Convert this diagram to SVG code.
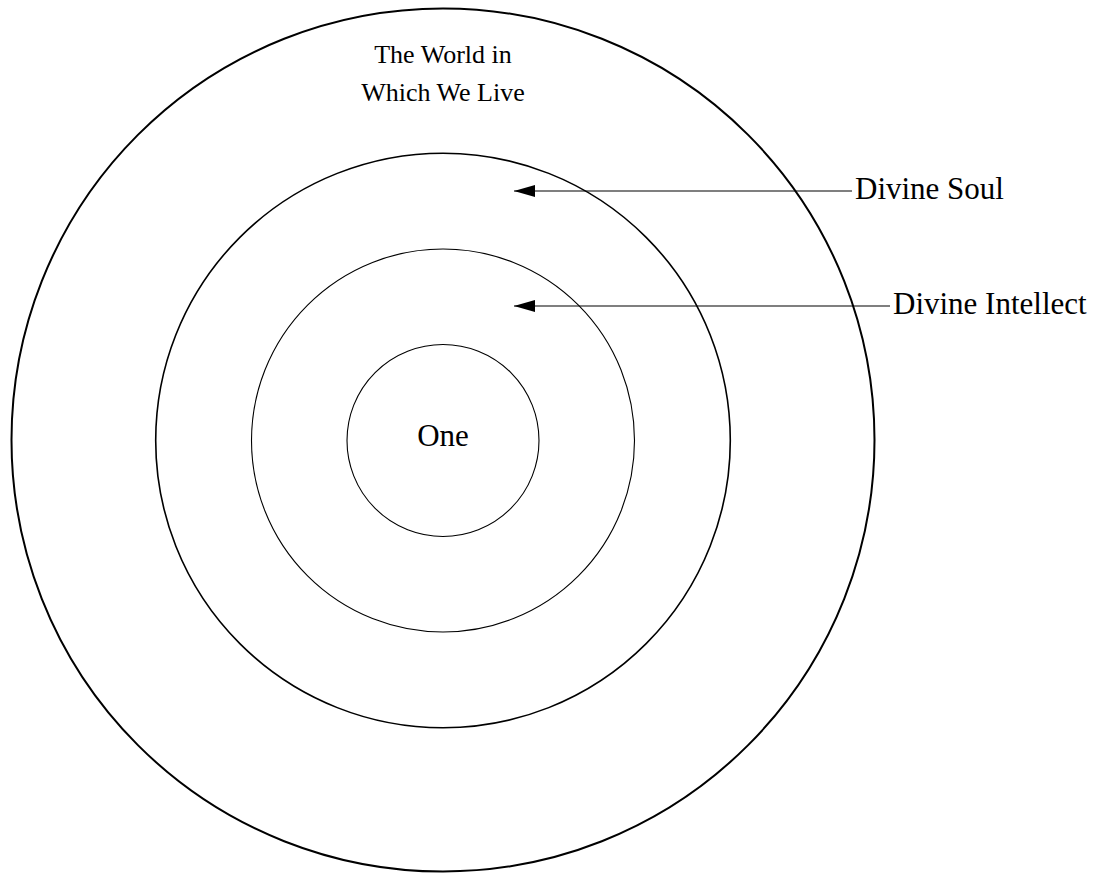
<svg xmlns="http://www.w3.org/2000/svg" width="1101" height="875" viewBox="0 0 1101 875">
<style>
.ring{fill:none;stroke:#000}
.lbl{font-family:"Liberation Serif","Times New Roman",serif;fill:#000}
.conn{stroke:#000;stroke-width:1.2;fill:none}
</style>
<defs>
<marker id="ah" markerUnits="userSpaceOnUse" markerWidth="22" markerHeight="14" refX="21" refY="6" orient="auto" viewBox="0 0 22 12">
<path d="M0,0 L21,6 L0,12 Z" fill="#000"/>
</marker>
</defs>
<rect width="1101" height="875" fill="#fff"/>
<g id="world">
<circle class="ring" cx="443" cy="440" r="431.5" stroke-width="2"/>
<text class="lbl" x="443" y="63" font-size="26" text-anchor="middle">The World in</text>
<text class="lbl" x="443" y="101" font-size="26" text-anchor="middle">Which We Live</text>
</g>
<g id="soul">
<circle class="ring" cx="443" cy="440.5" r="287.3" stroke-width="1.6"/>
<text class="lbl" x="855" y="198.5" font-size="31">Divine Soul</text>
</g>
<g id="intellect">
<circle class="ring" cx="443" cy="440.5" r="191.5" stroke-width="1.1"/>
<text class="lbl" x="893" y="313.5" font-size="31">Divine Intellect</text>
</g>
<g id="one">
<circle class="ring" cx="443" cy="440.5" r="96" stroke-width="1.1"/>
<text class="lbl" x="443" y="446" font-size="31" text-anchor="middle">One</text>
</g>
<g id="connectors">
<line class="conn" x1="852" y1="191" x2="514" y2="191" marker-end="url(#ah)"/>
<line class="conn" x1="890" y1="306" x2="514" y2="306" marker-end="url(#ah)"/>
</g>
</svg>
